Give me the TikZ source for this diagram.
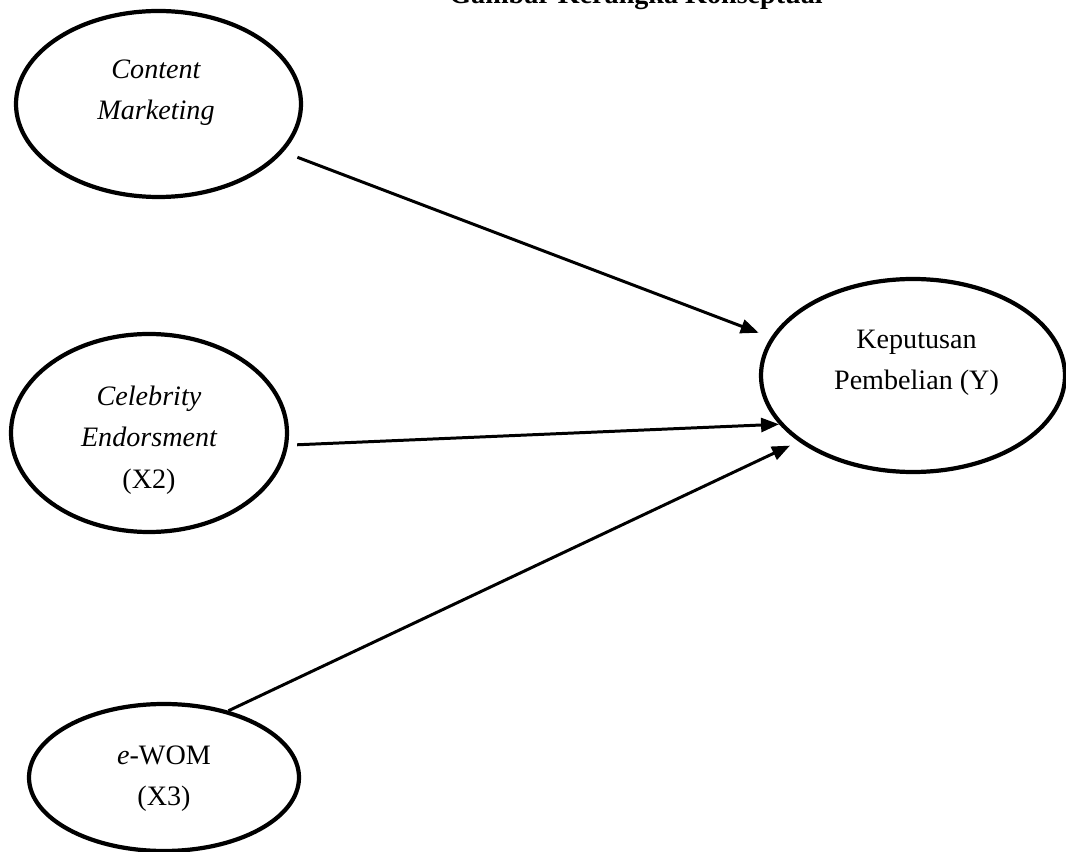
\documentclass[tikz,border=0pt]{standalone}
\usepackage{fontspec}
\setmainfont{Liberation Serif}
\usepackage{tikz}
\usetikzlibrary{arrows.meta,shapes.geometric}
\tikzset{
  varell/.style  = {ellipse,draw,line width=2.4pt,inner sep=0pt},
  vartxt/.style  = {align=center,font=\fontsize{16}{23.5}\selectfont},
  patharr/.style = {-{Triangle[length=3.6mm,width=2.8mm]},line width=1.7pt}
}

\begin{document}
\begin{tikzpicture}
  \useasboundingbox (0,0) rectangle (21.32,-17.04);
  \clip (0,0) rectangle (21.32,-17.04);
  \node[anchor=base,font=\fontsize{16}{20}\selectfont\bfseries] (title) at (12.72,-0.08) {Gambar Kerangka Konseptual};
  % variabel
  \node[varell,minimum width=5.7cm,minimum height=3.72cm]  (cm) at (3.17,-2.08)  {};
  \node[varell,minimum width=5.52cm,minimum height=3.96cm] (ce) at (2.98,-8.66)  {};
  \node[varell,minimum width=5.4cm,minimum height=2.94cm]  (ew) at (3.28,-15.55) {};
  \node[varell,minimum width=6.08cm,minimum height=3.86cm] (kp) at (18.26,-7.51) {};
  \node[vartxt] (cmtxt) at (3.12,-1.85)  {\itshape Content\\\itshape Marketing};
  \node[vartxt] (cetxt) at (2.98,-8.8)   {\itshape Celebrity\\\itshape Endorsment\\(X2)};
  \node[vartxt] (ewtxt) at (3.28,-15.58) {\textit{e}-WOM\\(X3)};
  \node[vartxt] (kptxt) at (18.33,-7.26) {Keputusan\\Pembelian (Y)};
  % pengaruh
  \draw[patharr,shorten <=0.3cm,shorten >=0.26cm] (cm.-21) -- (kp.165);
  \draw[patharr,shorten <=0.18cm] (ce.-5) -- (kp.200);
  \draw[patharr,shorten >=0.19cm] (ew.46.5) -- (kp.210.8);
\end{tikzpicture}
\end{document}
